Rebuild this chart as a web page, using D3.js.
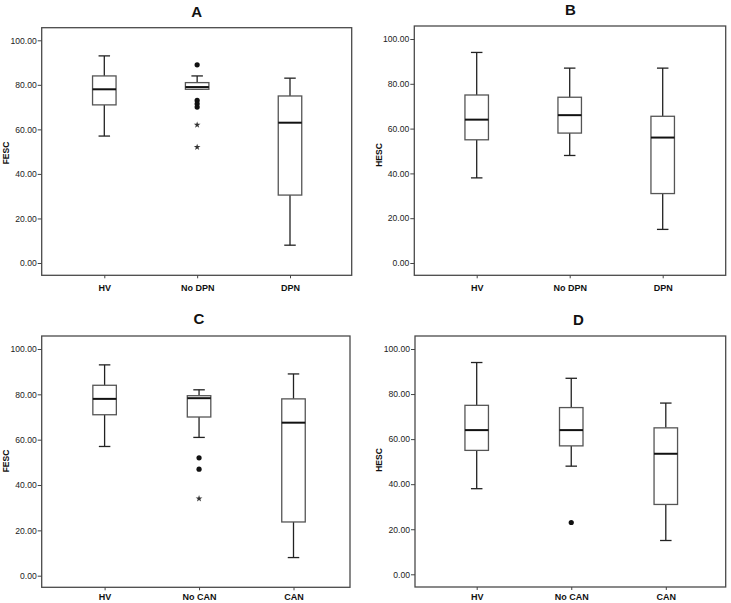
<!DOCTYPE html>
<html><head><meta charset="utf-8">
<script src="https://cdn.jsdelivr.net/npm/d3@7"></script>
<style>body{margin:0;background:#fff;}svg{display:block;}</style>
</head><body>
<svg id="c" width="731" height="603"></svg>
<script>
// ---- data ----
const titles = ["A", "B", "C", "D"];
const yTitles = ["FESC", "HESC", "FESC", "HESC"];
const catsDPN = ["HV", "No DPN", "DPN"];
const catsCAN = ["HV", "No CAN", "CAN"];
const yTicks = [0, 20, 40, 60, 80, 100];

const A_min = [57, 78, 8];
const A_q1  = [71, 78, 30.5];
const A_med = [78, 79, 63];
const A_q3  = [84, 81, 75];
const A_max = [93, 84, 83];
const A_out = [[], [89, 73, 71.5, 70], []];
const A_ext = [[], [62, 52], []];

const B_min = [38, 48, 15];
const B_q1  = [55, 58, 31];
const B_med = [64, 66, 56];
const B_q3  = [75, 74, 65.5];
const B_max = [94, 87, 87];
const B_out = [[], [], []];
const B_ext = [[], [], []];

const C_min = [57, 61, 8];
const C_q1  = [71, 70, 23.7];
const C_med = [78, 78.3, 67.5];
const C_q3  = [84, 79.4, 78];
const C_max = [93, 82, 89];
const C_out = [[], [52, 47], []];
const C_ext = [[], [34], []];

const D_min = [38, 48, 15];
const D_q1  = [55, 57, 31];
const D_med = [64, 64, 53.5];
const D_q3  = [75, 74, 65];
const D_max = [94, 87, 76];
const D_out = [[], [23], []];
const D_ext = [[], [], []];

// ---- layout ----
const panels = [
  {cats: catsDPN, min: A_min, q1: A_q1, med: A_med, q3: A_q3, max: A_max, out: A_out, ext: A_ext,
   frame: [41.7, 27.7, 351.7, 275.3], y: [263, 40.3], x: [104.3, 290], title: [196.7, 17], yt: [6, 153], pad: 6},
  {cats: catsDPN, min: B_min, q1: B_q1, med: B_med, q3: B_q3, max: B_max, out: B_out, ext: B_ext,
   frame: [414.3, 26, 725.7, 275.3], y: [263, 39], x: [476.7, 662.7], title: [570.5, 15], yt: [378.5, 155], pad: 6},
  {cats: catsCAN, min: C_min, q1: C_q1, med: C_med, q3: C_q3, max: C_max, out: C_out, ext: C_ext,
   frame: [41.7, 336, 350, 587.3], y: [575.7, 349], x: [104.6, 293.5], title: [199, 324], yt: [6, 461], pad: 3.5},
  {cats: catsCAN, min: D_min, q1: D_q1, med: D_med, q3: D_q3, max: D_max, out: D_out, ext: D_ext,
   frame: [415, 336, 725.7, 587], y: [574.3, 349], x: [476.7, 665.8], title: [578.5, 325], yt: [378.5, 460], pad: 3.5}
];

const svg = d3.select("#c");
const font = "Arial, 'Liberation Sans', sans-serif";

panels.forEach((p, i) => {
  const g = svg.append("g");
  const [fl, ft, fr, fb] = p.frame;
  const y = d3.scaleLinear().domain([0, 100]).range(p.y);
  const x = d3.scalePoint().domain(p.cats).range(p.x);

  // frame
  g.append("rect").attr("x", fl).attr("y", ft).attr("width", fr - fl).attr("height", fb - ft)
    .attr("fill", "none").attr("stroke", "#4a4a4a").attr("stroke-width", 1.3);

  // y axis
  const ya = g.append("g").attr("transform", `translate(${fl},0)`)
    .call(d3.axisLeft(y).tickValues(yTicks).tickFormat(d3.format(".2f")).tickSize(4).tickPadding(1));
  ya.select(".domain").remove();
  ya.selectAll("line").attr("stroke", "#444");
  ya.selectAll("text").attr("font-family", font).attr("font-size", 8.6).attr("fill", "#222");

  // x axis
  const xa = g.append("g").attr("transform", `translate(0,${fb})`)
    .call(d3.axisBottom(x).tickSize(3).tickPadding(p.pad));
  xa.select(".domain").remove();
  xa.selectAll("line").attr("stroke", "#444");
  xa.selectAll("text").attr("font-family", font).attr("font-size", 9).attr("font-weight", "bold").attr("fill", "#111");

  // title
  g.append("text").attr("x", p.title[0]).attr("y", p.title[1]).attr("text-anchor", "middle")
    .attr("font-family", font).attr("font-size", 15).attr("font-weight", "bold").attr("fill", "#111")
    .text(titles[i]);
  // y title
  g.append("text").attr("transform", `translate(${p.yt[0] + 3},${p.yt[1]}) rotate(-90)`)
    .attr("text-anchor", "middle").attr("font-family", font).attr("font-size", 8.5)
    .attr("font-weight", "bold").attr("fill", "#111").text(yTitles[i]);

  const bw = 23.5, cw = 11.5;
  p.cats.forEach((c, j) => {
    const cx = x(c);
    // whiskers
    g.append("line").attr("x1", cx).attr("x2", cx).attr("y1", y(p.q3[j])).attr("y2", y(p.max[j]))
      .attr("stroke", "#222").attr("stroke-width", 1.3);
    g.append("line").attr("x1", cx).attr("x2", cx).attr("y1", y(p.q1[j])).attr("y2", y(p.min[j]))
      .attr("stroke", "#222").attr("stroke-width", 1.3);
    g.append("line").attr("x1", cx - cw / 2).attr("x2", cx + cw / 2).attr("y1", y(p.max[j])).attr("y2", y(p.max[j]))
      .attr("stroke", "#222").attr("stroke-width", 1.3);
    g.append("line").attr("x1", cx - cw / 2).attr("x2", cx + cw / 2).attr("y1", y(p.min[j])).attr("y2", y(p.min[j]))
      .attr("stroke", "#222").attr("stroke-width", 1.3);
    // box
    g.append("rect").attr("x", cx - bw / 2).attr("y", y(p.q3[j])).attr("width", bw)
      .attr("height", y(p.q1[j]) - y(p.q3[j])).attr("fill", "#fff").attr("stroke", "#555").attr("stroke-width", 1.3);
    // median
    g.append("line").attr("x1", cx - bw / 2).attr("x2", cx + bw / 2).attr("y1", y(p.med[j])).attr("y2", y(p.med[j]))
      .attr("stroke", "#111").attr("stroke-width", 2);
    // outliers
    p.out[j].forEach(v => {
      g.append("circle").attr("cx", cx).attr("cy", y(v)).attr("r", 2.6).attr("fill", "#111");
    });
    p.ext[j].forEach(v => {
      g.append("path").attr("transform", `translate(${cx},${y(v)})`)
        .attr("d", d3.symbol(d3.symbolStar, 14)()).attr("fill", "#333");
    });
  });
});
</script>
</body></html>
